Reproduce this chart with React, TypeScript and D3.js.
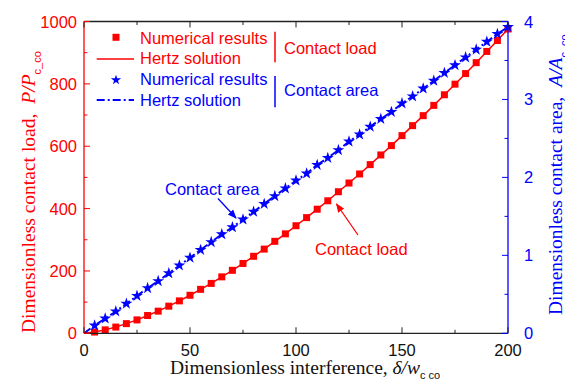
import React from 'react';
import * as d3 from 'd3';

// dimensionless interference delta / w_c_co
const interference = [
  0, 5, 10, 15, 20, 25, 30, 35, 40, 45, 50, 55, 60, 65, 70, 75, 80, 85, 90, 95, 100,
  105, 110, 115, 120, 125, 130, 135, 140, 145, 150, 155, 160, 165, 170, 175, 180, 185, 190, 195, 200,
];

// contact load P/P_c_co, numerical results at interference 5..200
const numericalLoad = [
  4, 11, 20, 31, 43, 57, 71, 87, 104, 122, 141, 160, 181, 202, 224, 247, 270, 295, 319, 345,
  371, 398, 425, 454, 482, 511, 541, 572, 602, 634, 666, 698, 731, 765, 799, 833, 868, 904, 939, 976,
];
// Hertz solution for the load, 0..200
const hertzLoad = [0, ...numericalLoad];

// contact area A/A_c_co, numerical results at interference 5..200
const numericalArea = [
  0.1, 0.19, 0.28, 0.38, 0.48, 0.58, 0.67, 0.77, 0.87, 0.97, 1.07, 1.17, 1.27, 1.36, 1.46, 1.56,
  1.66, 1.76, 1.86, 1.96, 2.05, 2.16, 2.25, 2.35, 2.46, 2.55, 2.65, 2.75, 2.84, 2.95, 3.04, 3.14,
  3.24, 3.34, 3.44, 3.54, 3.64, 3.74, 3.84, 3.93,
];
const hertzArea = [0, ...numericalArea];

const xTicks = [0, 50, 100, 150, 200];
const xMinor = [25, 75, 125, 175];
const loadTicks = [0, 200, 400, 600, 800, 1000];
const loadMinor = [100, 300, 500, 700, 900];
const areaTicks = [0, 1, 2, 3, 4];
const areaMinor = [0.5, 1.5, 2.5, 3.5];

const RED = '#ff0000';
const BLUE = '#0000ff';
const SANS = '"Liberation Sans", Arial, sans-serif';
const SERIF = '"Liberation Serif", "Times New Roman", serif';

const left = 84;
const right = 508;
const top = 21.5;
const bottom = 333.3;

export default function App() {
  const x = d3.scaleLinear().domain([0, 200]).range([left, right]);
  const yLoad = d3.scaleLinear().domain([0, 1000]).range([bottom, top]);
  const yArea = d3.scaleLinear().domain([0, 4]).range([bottom, top]);

  const loadLine = d3
    .line<number>()
    .x((d, i) => x(interference[i]))
    .y((d) => yLoad(d));
  const areaLine = d3
    .line<number>()
    .x((d, i) => x(interference[i]))
    .y((d) => yArea(d));

  const star = d3.symbol().type(d3.symbolStar).size(44)() as string;
  const legendStar = d3.symbol().type(d3.symbolStar).size(32)() as string;

  const major = 6;
  const minor = 3.5;

  return (
    <svg
      width={565}
      height={385}
      style={{ position: 'absolute', left: 0, top: 0, background: '#fff' }}
    >
      <defs>
        <marker id="arrRed" viewBox="0 0 10 10" refX="9" refY="5" markerWidth="7" markerHeight="7" orient="auto">
          <path d="M0,1 L10,5 L0,9 Z" fill={RED} />
        </marker>
        <marker id="arrBlue" viewBox="0 0 10 10" refX="9" refY="5" markerWidth="7" markerHeight="7" orient="auto">
          <path d="M0,1 L10,5 L0,9 Z" fill={BLUE} />
        </marker>
      </defs>

      {/* series: load */}
      <path d={loadLine(hertzLoad) || ''} fill="none" stroke={RED} strokeWidth={1.5} />
      {numericalLoad.map((v, i) => (
        <rect
          key={'l' + i}
          x={x(interference[i + 1]) - 3.5}
          y={yLoad(v) - 3.5}
          width={7}
          height={7}
          fill={RED}
        />
      ))}

      {/* series: area */}
      <path
        d={areaLine(hertzArea) || ''}
        fill="none"
        stroke={BLUE}
        strokeWidth={2}
        strokeDasharray="8,3,2,3"
      />
      {numericalArea.map((v, i) => (
        <path
          key={'a' + i}
          d={star}
          transform={`translate(${x(interference[i + 1])},${yArea(v)})`}
          fill={BLUE}
        />
      ))}

      {/* frame */}
      <line x1={left} x2={right} y1={top} y2={top} stroke="#222" strokeWidth={1.3} />
      <line x1={left} x2={right} y1={bottom} y2={bottom} stroke="#222" strokeWidth={1.3} />
      <line x1={left} x2={left} y1={top} y2={bottom} stroke={RED} strokeWidth={1.3} />
      <line x1={right} x2={right} y1={top} y2={bottom} stroke={BLUE} strokeWidth={1.3} />

      {/* x ticks, bottom and top */}
      {xTicks.map((t) => (
        <g key={'x' + t}>
          <line x1={x(t)} x2={x(t)} y1={bottom} y2={bottom - major} stroke="#222" />
          <line x1={x(t)} x2={x(t)} y1={top} y2={top + major} stroke="#222" />
          <text x={x(t)} y={355.5} textAnchor="middle" fontFamily={SANS} fontSize={16.5} fill="#111">
            {t}
          </text>
        </g>
      ))}
      {xMinor.map((t) => (
        <g key={'xm' + t}>
          <line x1={x(t)} x2={x(t)} y1={bottom} y2={bottom - minor} stroke="#222" />
          <line x1={x(t)} x2={x(t)} y1={top} y2={top + minor} stroke="#222" />
        </g>
      ))}

      {/* left axis */}
      {loadTicks.map((t) => (
        <g key={'yl' + t}>
          <line x1={left} x2={left + major} y1={yLoad(t)} y2={yLoad(t)} stroke={RED} />
          <text x={77} y={yLoad(t) + 6} textAnchor="end" fontFamily={SANS} fontSize={16.5} fill={RED}>
            {t}
          </text>
        </g>
      ))}
      {loadMinor.map((t) => (
        <line key={'ylm' + t} x1={left} x2={left + minor} y1={yLoad(t)} y2={yLoad(t)} stroke={RED} />
      ))}

      {/* right axis */}
      {areaTicks.map((t) => (
        <g key={'ya' + t}>
          <line x1={right} x2={right - major} y1={yArea(t)} y2={yArea(t)} stroke={BLUE} />
          <text x={524} y={yArea(t) + 6} textAnchor="start" fontFamily={SANS} fontSize={16.5} fill={BLUE}>
            {t}
          </text>
        </g>
      ))}
      {areaMinor.map((t) => (
        <line key={'yam' + t} x1={right} x2={right - minor} y1={yArea(t)} y2={yArea(t)} stroke={BLUE} />
      ))}

      {/* axis titles */}
      <text x={170} y={374} fontFamily={SERIF} fontSize={19.5} fill="#111">
        Dimensionless interference,{' '}
        <tspan fontStyle="italic">δ/w</tspan>
        <tspan fontFamily={SANS} fontSize={11} dy={5}>c co</tspan>
      </text>
      <text transform="translate(35,333) rotate(-90)" fontFamily={SERIF} fontSize={19.5} fill={RED}>
        Dimensionless contact load,
        <tspan dx={10} fontStyle="italic">P/P</tspan>
        <tspan fontFamily={SANS} fontSize={11} dy={6}>c_co</tspan>
      </text>
      <text transform="translate(562,315) rotate(-90)" fontFamily={SERIF} fontSize={19.5} fill={BLUE}>
        Dimensionless contact area,
        <tspan dx={10} fontStyle="italic">A/A</tspan>
        <tspan fontFamily={SANS} fontSize={11} dy={6}>c_co</tspan>
      </text>

      {/* legend */}
      <g fontFamily={SANS} fontSize={16.5}>
        <rect x={116 - 3.5} y={37.3 - 3.5} width={7} height={7} fill={RED} />
        <text x={140} y={43.5} fill={RED}>Numerical results</text>
        <line x1={96.7} x2={134} y1={59} y2={59} stroke={RED} strokeWidth={1.5} />
        <text x={140} y={63.7} fill={RED}>Hertz solution</text>
        <path d={legendStar} transform="translate(116,80)" fill={BLUE} />
        <text x={140} y={85.2} fill={BLUE}>Numerical results</text>
        <line x1={96.7} x2={134} y1={100} y2={100} stroke={BLUE} strokeWidth={2} strokeDasharray="8,3,2,3" />
        <text x={140} y={106} fill={BLUE}>Hertz solution</text>
        <line x1={275} x2={275} y1={31.7} y2={62.3} stroke={RED} strokeWidth={1.5} />
        <text x={284} y={54} fill={RED}>Contact load</text>
        <line x1={275} x2={275} y1={76} y2={107.3} stroke={BLUE} strokeWidth={1.5} />
        <text x={284} y={96} fill={BLUE}>Contact area</text>
      </g>

      {/* annotations */}
      <g fontFamily={SANS} fontSize={16.5}>
        <text x={165} y={195} fill={BLUE}>Contact area</text>
        <line x1={218} x2={236} y1={198.5} y2={218} stroke={BLUE} strokeWidth={1.3} markerEnd="url(#arrBlue)" />
        <text x={315} y={254.5} fill={RED}>Contact load</text>
        <line x1={358} x2={336.5} y1={235} y2={204} stroke={RED} strokeWidth={1.3} markerEnd="url(#arrRed)" />
      </g>
    </svg>
  );
}
